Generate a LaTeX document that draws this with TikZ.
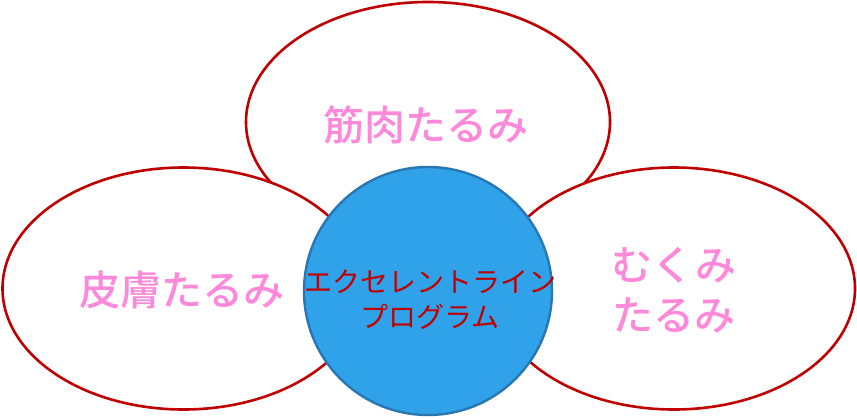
\documentclass[tikz,border=0pt]{standalone}
\usepackage{fontspec}
\newfontfamily\cjk{Noto Sans CJK JP}
\newfontfamily\cjkmed{Noto Sans CJK JP Medium}
\definecolor{ringred}{RGB}{192,0,0}
\definecolor{labpink}{RGB}{255,136,218}
\definecolor{ballblue}{RGB}{48,162,234}
\definecolor{balledge}{RGB}{40,118,178}
\begin{document}
\begin{tikzpicture}[x=1pt,y=-1pt,
  petal/.style={draw=ringred,line width=2.6pt,fill=white},
  petaltext/.style={text=labpink,font=\cjkmed\fontsize{41}{50}\selectfont,align=center},
  core/.style={circle,draw=balledge,line width=2.4pt,fill=ballblue,minimum size=248pt,inner sep=0pt},
  coretext/.style={text=ringred,font=\cjk\fontsize{28}{35}\selectfont,align=center}]
\useasboundingbox (0,0) rectangle (857,418);
\draw[petal] (428,122) ellipse [x radius=182,y radius=120];
\draw[petal] (183.5,288.5) ellipse [x radius=181,y radius=121];
\draw[petal] (674,288.5) ellipse [x radius=181,y radius=121];
\node[core] (c) at (428,291) {};
\node[petaltext] (t1) at (426,125) {筋肉たるみ};
\node[petaltext] (t2) at (182,290) {皮膚たるみ};
\node[petaltext] (t3) at (674,290) {むくみ\\たるみ};
\node[coretext] (t4) at (430,300) {エクセレントライン\\プログラム};
\end{tikzpicture}
\end{document}
